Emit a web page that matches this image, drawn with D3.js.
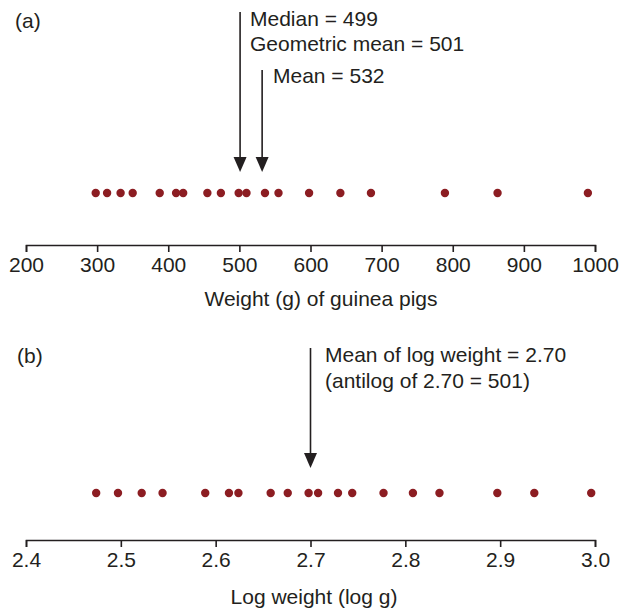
<!DOCTYPE html>
<html>
<head>
<meta charset="utf-8">
<script src="https://cdn.jsdelivr.net/npm/d3@7"></script>
<style>
  html, body { margin: 0; padding: 0; background: #fff; }
  svg text { font-family: "Liberation Sans", Arial, Helvetica, sans-serif; fill: #231f20; }
</style>
</head>
<body>
<svg id="chart" width="620" height="608"></svg>
<script>
// Guinea pig weights (g)
const weights = [298, 314, 333, 350, 388, 411, 421, 455, 474, 499, 510, 536, 555, 598, 642, 685, 789, 863, 990];
// Same animals on a log10 scale
const logWeights = [2.474, 2.497, 2.522, 2.544, 2.589, 2.614, 2.624, 2.658, 2.676, 2.698, 2.708, 2.729, 2.744, 2.777, 2.808, 2.836, 2.897, 2.936, 2.996];

const weightTicks = [200, 300, 400, 500, 600, 700, 800, 900, 1000];
const logTicks = [2.4, 2.5, 2.6, 2.7, 2.8, 2.9, 3.0];

const geoMean = 501, mean = 532, logMean = 2.70;

const svg = d3.select("#chart");
const ink = "#231f20", dotColor = "#8c1d22";
const fontSize = 21;

const xA = d3.scaleLinear().domain([200, 1000]).range([26, 595]);
const xB = d3.scaleLinear().domain([2.4, 3.0]).range([26, 595]);

function axis(scale, ticks, y, fmt, title, titleX, titleY) {
  const g = svg.append("g").attr("transform", `translate(0,${y})`)
    .call(d3.axisBottom(scale).tickValues(ticks).tickFormat(fmt).tickSizeInner(7).tickSizeOuter(7).tickPadding(5));
  g.select(".domain").attr("stroke", ink).attr("stroke-width", 1.6);
  g.selectAll(".tick line").attr("stroke", ink).attr("stroke-width", 1.6);
  g.selectAll(".tick text").style("font-size", fontSize + "px").attr("fill", ink)
    .attr("font-family", null);
  svg.append("text").attr("x", titleX).attr("y", titleY)
    .attr("text-anchor", "middle").style("font-size", fontSize + "px").text(title);
}

function arrow(x, y0, y1) {
  svg.append("line").attr("x1", x).attr("x2", x).attr("y1", y0).attr("y2", y1 - 14)
    .attr("stroke", ink).attr("stroke-width", 1.6);
  svg.append("path")
    .attr("d", `M${x - 6.5},${y1 - 15} L${x + 6.5},${y1 - 15} L${x},${y1} Z`)
    .attr("fill", ink);
}

function label(x, y, s) {
  svg.append("text").attr("x", x).attr("y", y).style("font-size", fontSize + "px").text(s);
}

// Panel (a): raw weights
label(15, 28, "(a)");
svg.append("g").selectAll("circle").data(weights).join("circle")
  .attr("cx", d => xA(d)).attr("cy", 193).attr("r", 4.2).attr("fill", dotColor);
axis(xA, weightTicks, 245, d3.format("d"), "Weight (g) of guinea pigs", 321, 306);
arrow(xA(geoMean), 12, 172);
arrow(xA(mean), 70, 172);
label(250, 26, "Median = 499");
label(250, 51, `Geometric mean = ${geoMean}`);
label(273, 83, `Mean = ${mean}`);

// Panel (b): log weights
label(17, 363, "(b)");
svg.append("g").selectAll("circle").data(logWeights).join("circle")
  .attr("cx", d => xB(d)).attr("cy", 493).attr("r", 4.2).attr("fill", dotColor);
axis(xB, logTicks, 540, d3.format(".1f"), "Log weight (log g)", 314, 604);
arrow(xB(logMean), 348, 468);
label(325, 362, `Mean of log weight = ${logMean.toFixed(2)}`);
label(325, 388, `(antilog of ${logMean.toFixed(2)} = ${geoMean})`);
</script>
</body>
</html>
